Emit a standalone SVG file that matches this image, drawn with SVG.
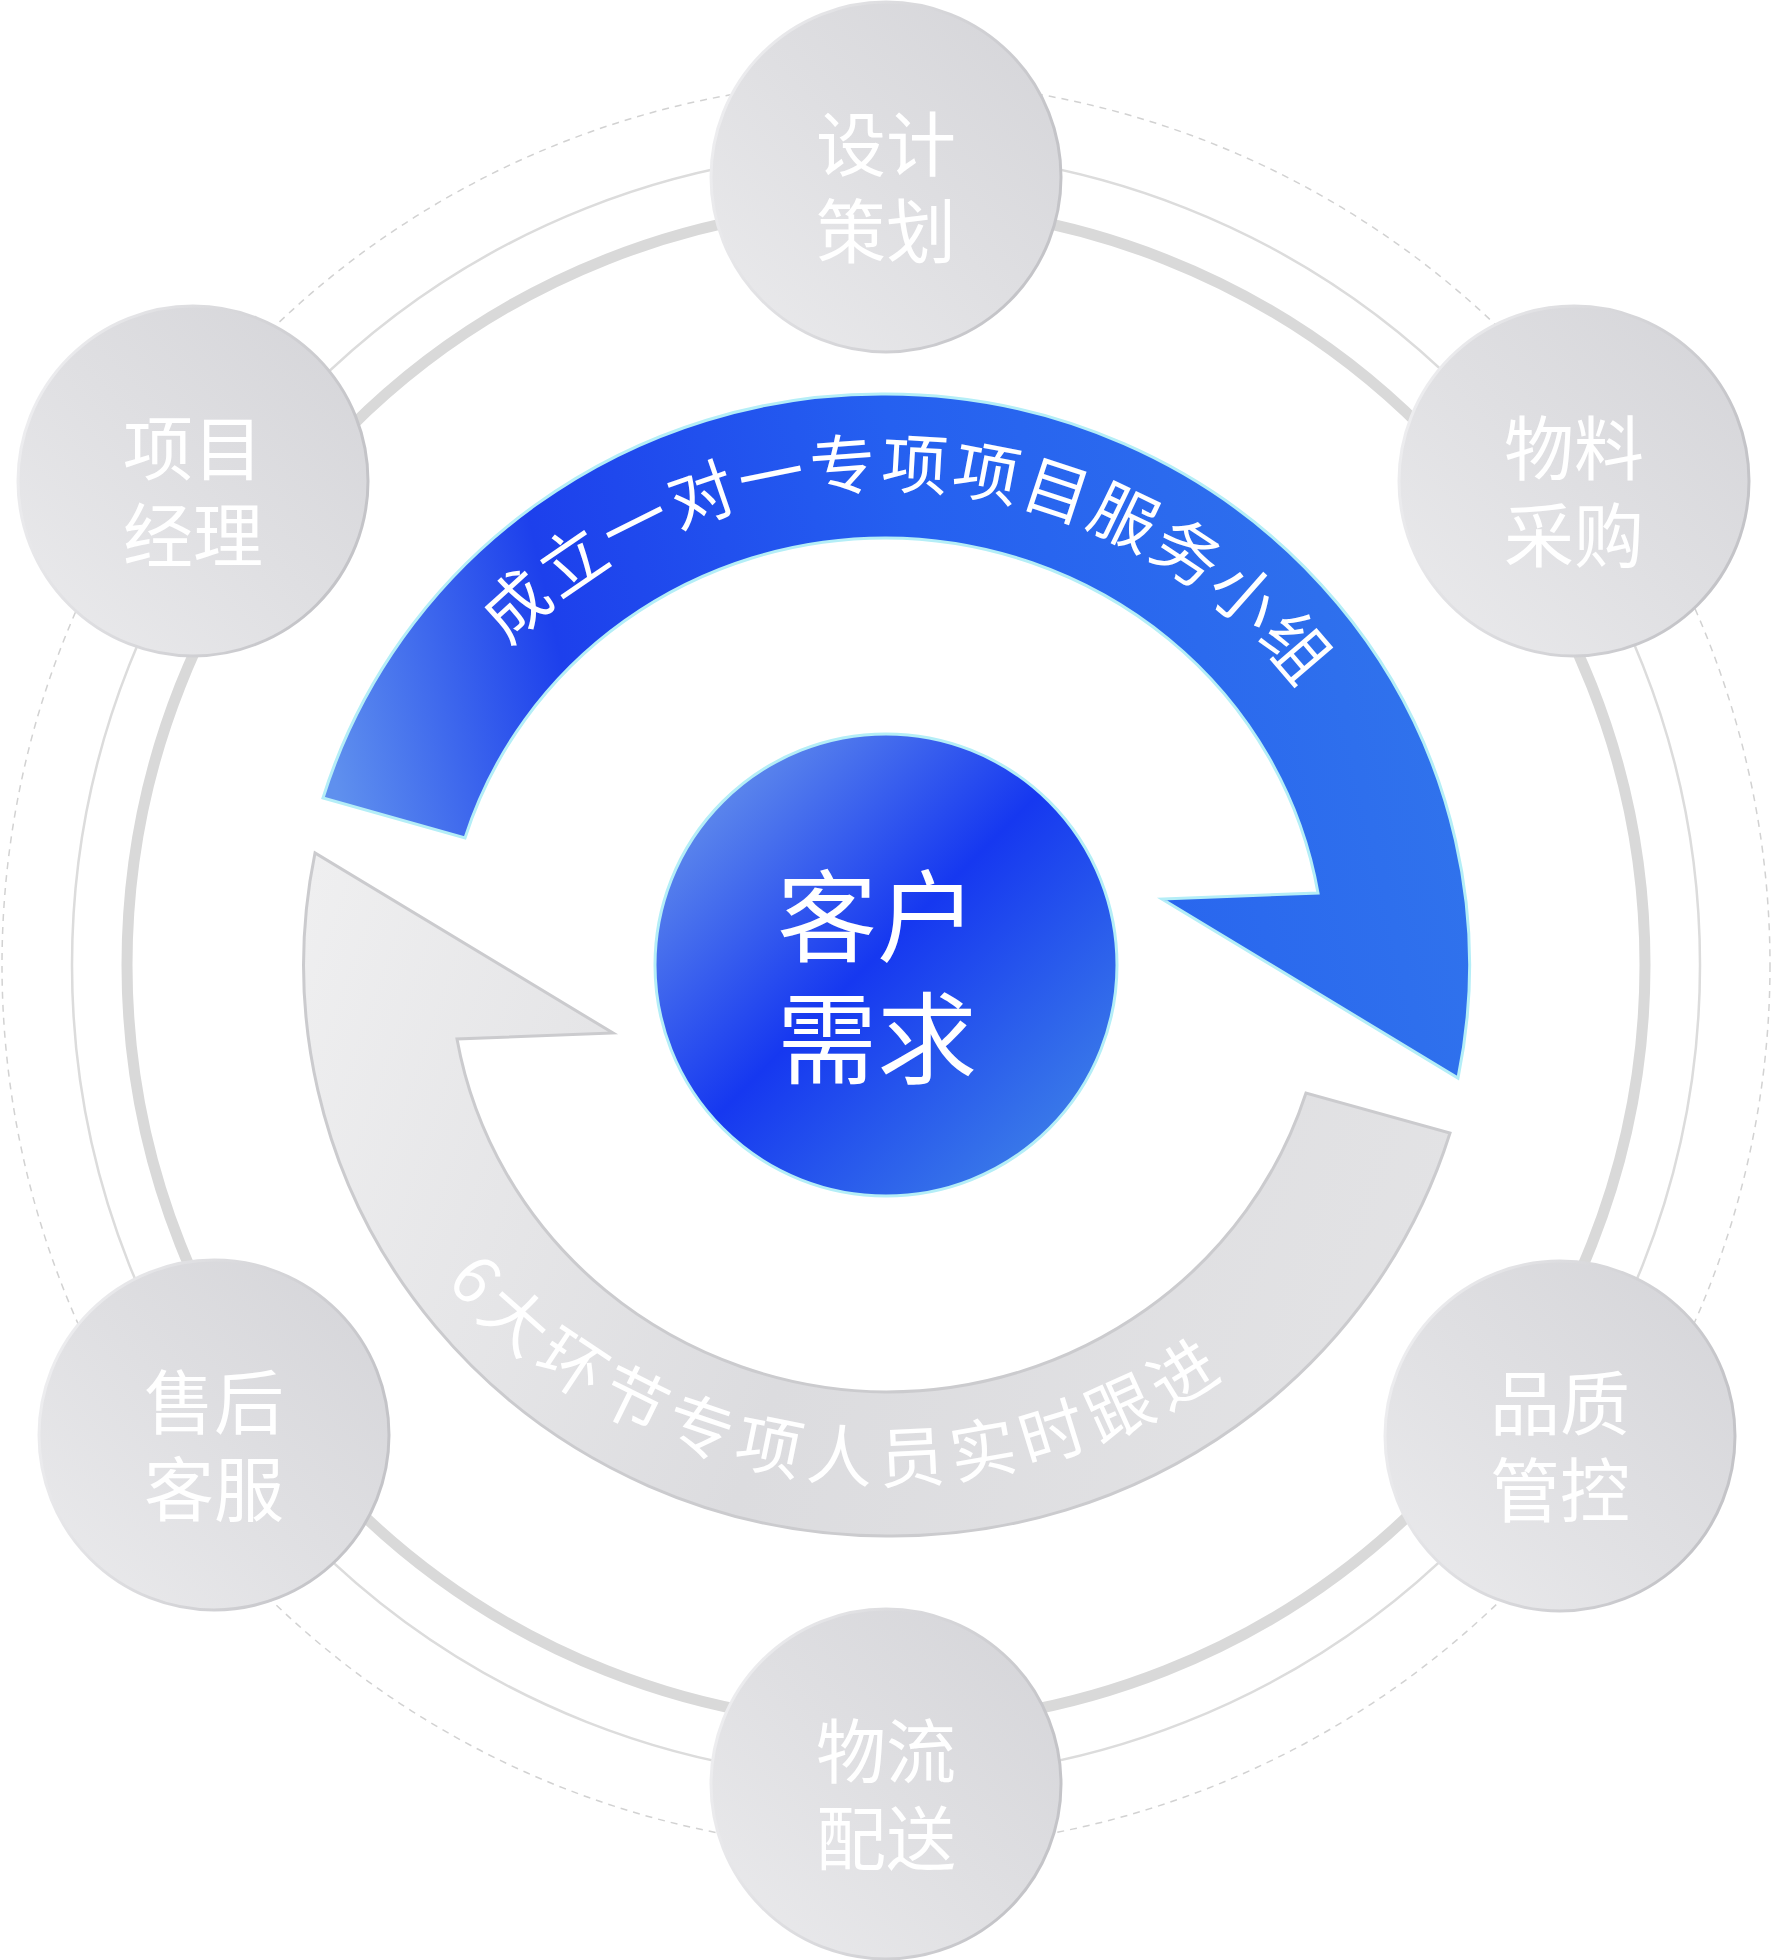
<svg xmlns="http://www.w3.org/2000/svg" width="1772" height="1960" viewBox="0 0 1772 1960">
<style>
.ring-thick{fill:none;stroke:#d9d9d9;stroke-width:11}
.ring-thin{fill:none;stroke:#dcdcdc;stroke-width:2.5}
.ring-dash{fill:none;stroke:#d2d2d2;stroke-width:1.5;stroke-dasharray:7 6}
.node-c{fill:url(#gNode);stroke:url(#gNodeStroke);stroke-width:3}
.node-t{font-family:"Noto Sans CJK SC","Noto Sans",sans-serif;font-size:70px;fill:#ffffff;text-anchor:middle;dominant-baseline:central}
.center-t{font-family:"Noto Sans CJK SC","Noto Sans",sans-serif;font-size:100px;font-weight:400;fill:#ffffff;text-anchor:middle;dominant-baseline:central}
.band-t{font-family:"Noto Sans CJK SC","Noto Sans",sans-serif;font-size:66px;fill:#ffffff;dominant-baseline:central;text-anchor:middle}
</style>
<defs>
<linearGradient id="gNode" x1="0" y1="1" x2="1" y2="0">
<stop offset="0" stop-color="#ebebed"/>
<stop offset="0.5" stop-color="#dfdfe2"/>
<stop offset="1" stop-color="#d4d4d8"/>
</linearGradient>
<linearGradient id="gNodeStroke" x1="0" y1="0" x2="1" y2="0.3">
<stop offset="0" stop-color="#f2f2f4"/>
<stop offset="1" stop-color="#c4c4c8"/>
</linearGradient>
<linearGradient id="gCenter" x1="0" y1="0" x2="1" y2="1">
<stop offset="0" stop-color="#78a6ea"/>
<stop offset="0.48" stop-color="#1638f0"/>
<stop offset="1" stop-color="#4690e6"/>
</linearGradient>
<linearGradient id="gBlue" gradientUnits="userSpaceOnUse" x1="350" y1="850" x2="1450" y2="600">
<stop offset="0" stop-color="#5f90ee"/>
<stop offset="0.22" stop-color="#1d40ec"/>
<stop offset="0.55" stop-color="#2560f0"/>
<stop offset="1" stop-color="#3174ec"/>
</linearGradient>
<linearGradient id="gGray" gradientUnits="userSpaceOnUse" x1="300" y1="900" x2="1450" y2="1300">
<stop offset="0" stop-color="#efeff0"/>
<stop offset="0.5" stop-color="#dcdcdf"/>
<stop offset="1" stop-color="#e3e3e5"/>
</linearGradient>
<path id="tpBlue" d="M 351 965 A 535 506 0 0 1 1421 965"/>
<path id="tpGray" d="M 358 965 A 528 488 0 0 0 1414 965"/>
</defs>
<rect width="1772" height="1960" fill="#ffffff"/>
<g id="connectors">
<circle class="ring-dash" cx="886" cy="965" r="884"/>
<circle class="ring-thin" cx="886" cy="965" r="814"/>
<circle class="ring-thick" cx="886" cy="965" r="759"/>
</g>
<g id="band-blue">
<path d="M 323 798 A 584 571 0 0 1 886 394 A 584 571 0 0 1 1458 1078 L 1162 899 L 1318 893 A 440 427 0 0 0 886 538 A 440 427 0 0 0 465 838 Z" fill="url(#gBlue)" stroke="#b4eef7" stroke-width="3" stroke-linejoin="miter"/>
<text class="band-t" letter-spacing="7"><textPath href="#tpBlue" startOffset="52%">成立一对一专项项目服务小组</textPath></text>
</g>
<g id="band-gray">
<path d="M 1450 1133 A 584 571 0 0 1 886 1536 A 584 571 0 0 1 315 853 L 613 1033 L 457 1039 A 440 427 0 0 0 886 1392 A 440 427 0 0 0 1306 1093 Z" fill="url(#gGray)" stroke="#cbcbce" stroke-width="3"/>
<text class="band-t" letter-spacing="5"><textPath href="#tpGray" startOffset="46%">6大环节专项人员实时跟进</textPath></text>
</g>
<g id="node-center">
<circle cx="886" cy="965" r="231" fill="url(#gCenter)" stroke="#b4eef7" stroke-width="3"/>
<text class="center-t"><tspan x="877" y="910">客户</tspan><tspan x="877" y="1032">需求</tspan></text>
</g>
<g id="node-design">
<circle class="node-c" cx="886" cy="177" r="175"/>
<text class="node-t"><tspan x="886" y="140">设计</tspan><tspan x="886" y="227">策划</tspan></text>
</g>
<g id="node-material">
<circle class="node-c" cx="1574" cy="481" r="175"/>
<text class="node-t"><tspan x="1574" y="444">物料</tspan><tspan x="1574" y="531">采购</tspan></text>
</g>
<g id="node-quality">
<circle class="node-c" cx="1560" cy="1436" r="175"/>
<text class="node-t"><tspan x="1560" y="1399">品质</tspan><tspan x="1560" y="1486">管控</tspan></text>
</g>
<g id="node-logistics">
<circle class="node-c" cx="886" cy="1784" r="175"/>
<text class="node-t"><tspan x="886" y="1747">物流</tspan><tspan x="886" y="1834">配送</tspan></text>
</g>
<g id="node-service">
<circle class="node-c" cx="214" cy="1435" r="175"/>
<text class="node-t"><tspan x="214" y="1398">售后</tspan><tspan x="214" y="1485">客服</tspan></text>
</g>
<g id="node-pm">
<circle class="node-c" cx="193" cy="481" r="175"/>
<text class="node-t"><tspan x="193" y="444">项目</tspan><tspan x="193" y="531">经理</tspan></text>
</g>
</svg>
